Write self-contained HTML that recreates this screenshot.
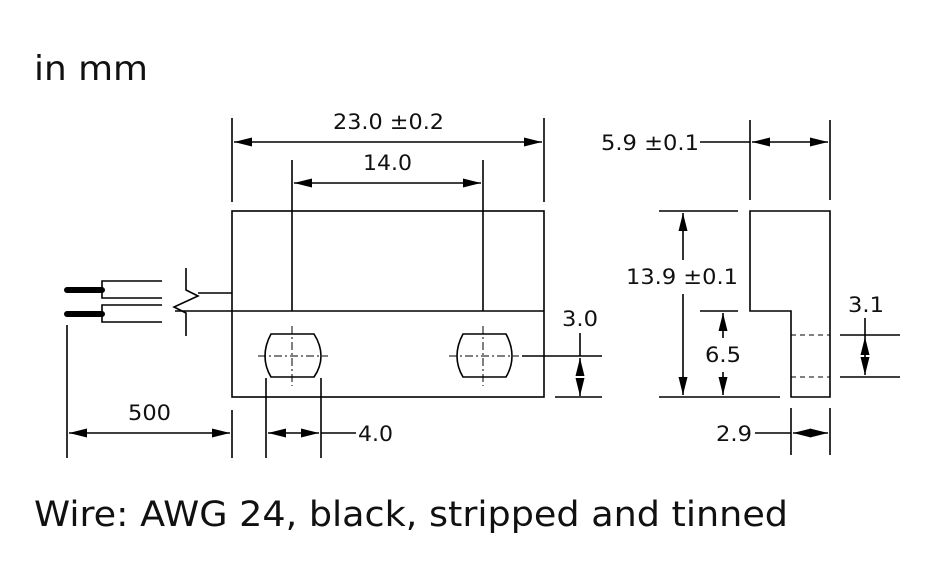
<!DOCTYPE html>
<html><head><style>body{margin:0;background:#fff}svg{display:block}</style></head><body>
<svg width="927" height="582" viewBox="0 0 927 582" xmlns="http://www.w3.org/2000/svg" font-family="DejaVu Sans, sans-serif">
<defs>
<marker id="a" viewBox="0 0 20 10" refX="20" refY="5" markerWidth="18" markerHeight="9" markerUnits="userSpaceOnUse" orient="auto-start-reverse"><path d="M0,0L20,5L0,10z" fill="#000"/></marker>
</defs>
<rect width="927" height="582" fill="#fff"/>
<text x="34" y="80" font-size="34" fill="#111" textLength="114" lengthAdjust="spacingAndGlyphs">in mm</text>
<text x="34" y="526" font-size="35" fill="#111" textLength="754" lengthAdjust="spacingAndGlyphs">Wire: AWG 24, black, stripped and tinned</text>
<g stroke="#000" stroke-width="1.6" fill="none">
<rect x="232" y="211" width="312" height="186"/>
<line x1="175" y1="311" x2="544" y2="311"/>
<line x1="292" y1="160" x2="292" y2="311"/>
<line x1="483" y1="160" x2="483" y2="311"/>
<line x1="232" y1="118" x2="232" y2="202"/>
<line x1="544" y1="118" x2="544" y2="202"/>
<line x1="234" y1="142" x2="542" y2="142" marker-start="url(#a)" marker-end="url(#a)"/>
<line x1="294" y1="183" x2="481" y2="183" marker-start="url(#a)" marker-end="url(#a)"/>
<path d="M271,334 H314 Q321,345 321,356 Q321,367 314,377 H271 Q265,367 265,356 Q265,345 271,334Z"/>
<path d="M463,334 H506 Q512,345 512,356 Q512,367 506,377 H463 Q457,367 457,356 Q457,345 463,334Z"/>
<g stroke-width="1" stroke-dasharray="8,3,2,3">
<line x1="258" y1="356" x2="328" y2="356"/><line x1="292" y1="326" x2="292" y2="386"/>
<line x1="449" y1="356" x2="519" y2="356"/><line x1="483" y1="326" x2="483" y2="386"/>
</g>
<line x1="198" y1="293" x2="232" y2="293"/>
<polyline points="186,268 186,290 198,296 174,307 186,313 186,336"/>
<polyline points="162,281 102,281 102,298 162,298"/>
<polyline points="162,305 102,305 102,322 162,322"/>
<line x1="67" y1="290" x2="102" y2="290" stroke-width="6" stroke-linecap="round"/>
<line x1="67" y1="314" x2="102" y2="314" stroke-width="6" stroke-linecap="round"/>
<line x1="67" y1="325" x2="67" y2="458"/>
<line x1="232" y1="410" x2="232" y2="458"/>
<line x1="69" y1="433" x2="230" y2="433" marker-start="url(#a)" marker-end="url(#a)"/>
<line x1="266" y1="378" x2="266" y2="458"/>
<line x1="321" y1="378" x2="321" y2="458"/>
<line x1="268" y1="433" x2="319" y2="433" marker-start="url(#a)" marker-end="url(#a)"/>
<line x1="321" y1="433" x2="356" y2="433"/>
<line x1="522" y1="356" x2="602" y2="356"/>
<line x1="555" y1="397" x2="602" y2="397"/>
<line x1="580" y1="333" x2="580" y2="356"/>
<line x1="580" y1="376" x2="580" y2="358" marker-end="url(#a)"/>
<line x1="580" y1="378" x2="580" y2="396" marker-end="url(#a)"/>
<path d="M750,211 H830 V397 H791 V311 H750 Z"/>
<g stroke-width="1" stroke-dasharray="5,4"><line x1="791" y1="335" x2="830" y2="335"/><line x1="791" y1="377" x2="830" y2="377"/></g>
<line x1="750" y1="120" x2="750" y2="200"/>
<line x1="830" y1="120" x2="830" y2="200"/>
<line x1="752" y1="142" x2="828" y2="142" marker-start="url(#a)" marker-end="url(#a)"/>
<line x1="700" y1="142" x2="750" y2="142"/>
<line x1="659" y1="211" x2="738" y2="211"/>
<line x1="659" y1="397" x2="780" y2="397"/>
<line x1="683" y1="213" x2="683" y2="260" marker-start="url(#a)"/>
<line x1="683" y1="294" x2="683" y2="395" marker-end="url(#a)"/>
<line x1="700" y1="311" x2="738" y2="311"/>
<line x1="723" y1="313" x2="723" y2="338" marker-start="url(#a)"/>
<line x1="723" y1="372" x2="723" y2="395" marker-end="url(#a)"/>
<line x1="840" y1="335" x2="900" y2="335"/>
<line x1="840" y1="377" x2="900" y2="377"/>
<line x1="865" y1="318" x2="865" y2="337"/>
<line x1="865" y1="356" x2="865" y2="337" marker-end="url(#a)"/>
<line x1="865" y1="356" x2="865" y2="375" marker-end="url(#a)"/>
<line x1="791" y1="408" x2="791" y2="455"/>
<line x1="830" y1="408" x2="830" y2="455"/>
<line x1="793" y1="433" x2="828" y2="433" marker-start="url(#a)" marker-end="url(#a)"/>
<line x1="755" y1="433" x2="791" y2="433"/>
</g>
<g font-size="21" fill="#111">
<text x="333" y="129" textLength="111" lengthAdjust="spacingAndGlyphs">23.0 ±0.2</text>
<text x="363" y="170" textLength="49" lengthAdjust="spacingAndGlyphs">14.0</text>
<text x="128" y="420" textLength="43" lengthAdjust="spacingAndGlyphs">500</text>
<text x="358" y="441" textLength="35" lengthAdjust="spacingAndGlyphs">4.0</text>
<text x="562" y="326" textLength="36" lengthAdjust="spacingAndGlyphs">3.0</text>
<text x="601" y="150" textLength="98" lengthAdjust="spacingAndGlyphs">5.9 ±0.1</text>
<text x="626" y="284" textLength="112" lengthAdjust="spacingAndGlyphs">13.9 ±0.1</text>
<text x="705" y="362" textLength="36" lengthAdjust="spacingAndGlyphs">6.5</text>
<text x="848" y="312" textLength="36" lengthAdjust="spacingAndGlyphs">3.1</text>
<text x="716" y="441" textLength="36" lengthAdjust="spacingAndGlyphs">2.9</text>
</g>
</svg>
</body></html>
